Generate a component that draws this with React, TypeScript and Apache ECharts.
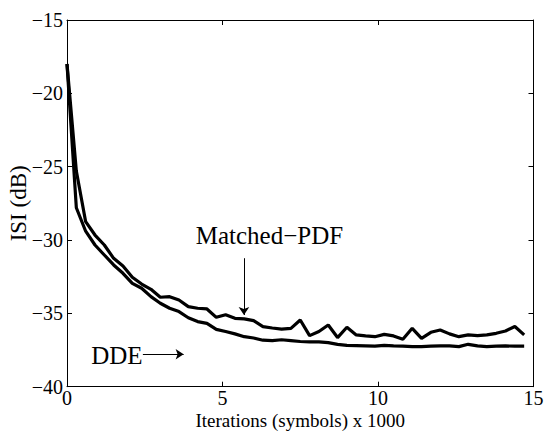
import React, { useEffect, useRef } from "react";
import * as echarts from "echarts";

const iterations = [
  0, 0.3, 0.6, 0.9, 1.2, 1.5, 1.8, 2.1, 2.4, 2.7,
  3.0, 3.3, 3.6, 3.9, 4.2, 4.5, 4.8, 5.1, 5.4, 5.7,
  6.0, 6.3, 6.6, 6.9, 7.2, 7.5, 7.8, 8.1, 8.4, 8.7,
  9.0, 9.3, 9.6, 9.9, 10.2, 10.5, 10.8, 11.1, 11.4, 11.7,
  12.0, 12.3, 12.6, 12.9, 13.2, 13.5, 13.8, 14.1, 14.4, 14.7,
];

const matchedPdf = [
  -18.0, -25.3, -28.75, -29.66, -30.34, -31.25, -31.77, -32.54, -33.0, -33.36,
  -33.9, -33.86, -34.09, -34.54, -34.65, -34.7, -35.27, -35.1, -35.34, -35.38,
  -35.5, -35.9, -36.0, -36.08, -36.02, -35.45, -36.52, -36.24, -35.79, -36.65,
  -35.95, -36.47, -36.54, -36.59, -36.43, -36.54, -36.77, -36.02, -36.7, -36.29,
  -36.13, -36.4, -36.59, -36.47, -36.52, -36.47, -36.36, -36.2, -35.9, -36.47,
];

const dde = [
  -18.0, -27.8, -29.4, -30.34, -31.02, -31.7, -32.27, -32.95, -33.29, -33.86,
  -34.31, -34.65, -34.88, -35.3, -35.56, -35.68, -36.09, -36.24, -36.4, -36.59,
  -36.68, -36.83, -36.86, -36.8, -36.86, -36.92, -36.95, -36.95, -37.0, -37.11,
  -37.18, -37.2, -37.22, -37.24, -37.18, -37.22, -37.24, -37.27, -37.27, -37.24,
  -37.22, -37.22, -37.27, -37.11, -37.22, -37.27, -37.24, -37.22, -37.24, -37.24,
];

// annotation anchors in data coordinates
const matchedArrow = [[5.69, -31.24], [5.69, -35.11]];
const ddeArrow = [[2.44, -37.79], [3.75, -37.79]];
const annotationLabels = [
  { text: "Matched\u2212PDF", x: 4.14, y: -29.66 },
  { text: "DDE", x: 0.78, y: -37.9 },
];

const X_NAME = "Iterations (symbols) x 1000";
const Y_NAME = "ISI (dB)";
const FONT = "Liberation Serif";

export default function App() {
  const ref = useRef<HTMLDivElement>(null);

  useEffect(() => {
    const chart = echarts.init(ref.current!, undefined, { renderer: "svg" });
    const fmt = (v: number) => String(v).replace("-", "\u2212");
    const line = { show: true, onZero: false, lineStyle: { color: "#000", width: 1 } };
    const tick = { show: true, inside: true, length: 5, lineStyle: { color: "#000", width: 1 } };
    const label = { color: "#000", fontFamily: FONT, fontSize: 20, lineHeight: 20, formatter: fmt };

    chart.setOption({
      animation: false,
      backgroundColor: "#fff",
      textStyle: { fontFamily: FONT },
      grid: {
        left: 67, right: 12.5, top: 20, bottom: 44.3,
        containLabel: false, outerBoundsMode: "none",
      },
      xAxis: [
        {
          type: "value", min: 0, max: 15, interval: 5, position: "bottom",
          name: X_NAME, nameLocation: "middle", nameGap: 24, nameMoveOverlap: false,
          nameTextStyle: { color: "#000", fontFamily: FONT, fontSize: 19, lineHeight: 19 },
          axisLine: line, axisTick: tick,
          axisLabel: { ...label, margin: 1 },
          splitLine: { show: false },
        },
        {
          type: "value", min: 0, max: 15, interval: 5, position: "top",
          axisLine: line, axisTick: tick, axisLabel: { show: false },
          splitLine: { show: false },
        },
      ],
      yAxis: [
        {
          type: "value", min: -40, max: -15, interval: 5, position: "left",
          name: Y_NAME, nameLocation: "middle", nameGap: 37, nameMoveOverlap: false,
          nameTextStyle: { color: "#000", fontFamily: FONT, fontSize: 23 },
          axisLine: line, axisTick: tick,
          axisLabel: { ...label, margin: 4 },
          splitLine: { show: false },
        },
        {
          type: "value", min: -40, max: -15, interval: 5, position: "right",
          axisLine: line, axisTick: tick, axisLabel: { show: false },
          splitLine: { show: false },
        },
      ],
      series: [
        {
          name: "Matched-PDF",
          type: "line",
          xAxisIndex: 0, yAxisIndex: 0,
          data: iterations.map((x, i) => [x, matchedPdf[i]]),
          symbol: "none",
          lineStyle: { color: "#000", width: 3.2 },
          markLine: {
            silent: true,
            symbol: ["none", "arrow"],
            symbolSize: 8,
            label: { show: false },
            lineStyle: { color: "#000", width: 1, type: "solid" },
            data: [
              [{ coord: matchedArrow[0] }, { coord: matchedArrow[1] }],
              [{ coord: ddeArrow[0] }, { coord: ddeArrow[1] }],
            ],
          },
        },
        {
          name: "DDE",
          type: "line",
          xAxisIndex: 0, yAxisIndex: 0,
          data: iterations.map((x, i) => [x, dde[i]]),
          symbol: "none",
          lineStyle: { color: "#000", width: 3.2 },
        },
      ],
    });

    const graphics = annotationLabels.map((a) => {
      const p = chart.convertToPixel({ gridIndex: 0 }, [a.x, a.y]) as number[];
      return {
        type: "text",
        x: p[0],
        y: p[1],
        style: {
          text: a.text,
          fill: "#000",
          fontFamily: FONT,
          fontSize: 25,
          align: "left",
          verticalAlign: "middle",
        },
      };
    });
    chart.setOption({ graphic: graphics });

    return () => chart.dispose();
  }, []);

  return (
    <div
      ref={ref}
      style={{ position: "fixed", left: 0, top: 0, width: 546, height: 431 }}
    />
  );
}
